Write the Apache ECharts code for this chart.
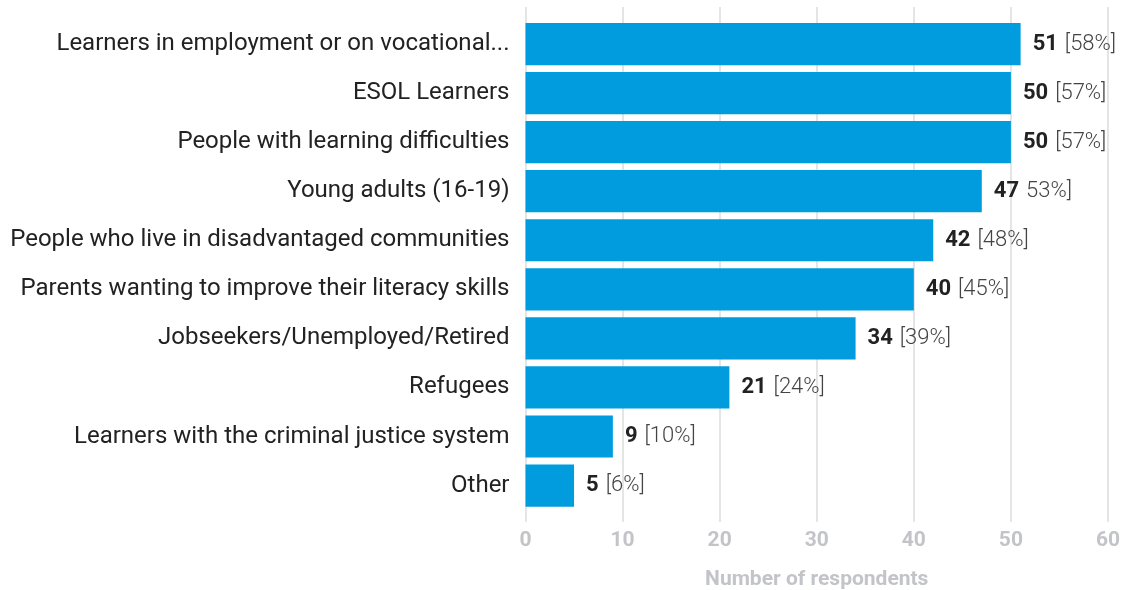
<!DOCTYPE html>
<html>
<head>
<meta charset="utf-8">
<script src="https://cdn.jsdelivr.net/npm/echarts@6/dist/echarts.min.js"></script>
<style>
  html, body { margin: 0; padding: 0; background: #fff; }
  #chart { width: 1125px; height: 590px; }
</style>
</head>
<body>
<div id="chart"></div>
<script>
// Target groups, respondent counts and share labels
const categories = [
  'Learners in employment or on vocational...',
  'ESOL Learners',
  'People with learning difficulties',
  'Young adults (16-19)',
  'People who live in disadvantaged communities',
  'Parents wanting to improve their literacy skills',
  'Jobseekers/Unemployed/Retired',
  'Refugees',
  'Learners with the criminal justice system',
  'Other'
];
const counts = [51, 50, 50, 47, 42, 40, 34, 21, 9, 5];
const shareLabels = ['[58%]', '[57%]', '[57%]', '53%]', '[48%]', '[45%]', '[39%]', '[24%]', '[10%]', '[6%]'];
const xTicks = [0, 10, 20, 30, 40, 50, 60];
const axisTitle = 'Number of respondents';

const FONT = 'Roboto, "Noto Sans", sans-serif';
const LEFT = 525.5, RIGHT = 17;

const chart = echarts.init(document.getElementById('chart'), null, { renderer: 'canvas' });

chart.setOption({
  animation: false,
  backgroundColor: '#ffffff',
  grid: [
    // grid for the value axis and its gridlines
    { left: LEFT, right: RIGHT, top: 7, height: 515, containLabel: false, outerBoundsMode: 'none' },
    // grid for the bars and category labels
    { left: LEFT, right: RIGHT, top: 19.5, height: 490.6, containLabel: false, outerBoundsMode: 'none' }
  ],
  xAxis: [
    {
      gridIndex: 0, type: 'value',
      min: xTicks[0], max: xTicks[xTicks.length - 1], interval: 10,
      axisLine: { show: false }, axisTick: { show: false },
      splitLine: { show: true, lineStyle: { color: '#dcdcdc', width: 1.5 } },
      axisLabel: {
        margin: 8, color: '#c3c4c8', fontFamily: FONT, fontWeight: 'bold', fontSize: 21
      },
      name: axisTitle, nameLocation: 'middle', nameGap: 47,
      nameTextStyle: { color: '#c3c4c8', fontFamily: FONT, fontWeight: 'bold', fontSize: 21 }
    },
    {
      gridIndex: 1, type: 'value', min: 0, max: 60, show: false
    }
  ],
  yAxis: [
    { gridIndex: 0, type: 'category', data: categories, inverse: true, show: false },
    {
      gridIndex: 1, type: 'category', data: categories, inverse: true,
      axisLine: { show: false }, axisTick: { show: false },
      axisLabel: {
        margin: 16, color: '#222222', fontFamily: FONT, fontSize: 24
      }
    }
  ],
  series: [{
    type: 'bar',
    xAxisIndex: 1, yAxisIndex: 1,
    data: counts,
    barCategoryGap: '14%',
    itemStyle: { color: '#009cde' },
    label: {
      show: true,
      position: 'right',
      distance: 12,
      formatter: p => '{n|' + p.value + '}{s| }{p|' + shareLabels[p.dataIndex] + '}',
      rich: {
        n: { fontFamily: FONT, fontWeight: 'bold', fontSize: 22, color: '#222222' },
        s: { fontFamily: FONT, fontSize: 22, width: 7 },
        p: { fontFamily: FONT, fontWeight: 300, fontSize: 22, color: '#444444' }
      }
    }
  }]
});
</script>
</body>
</html>
